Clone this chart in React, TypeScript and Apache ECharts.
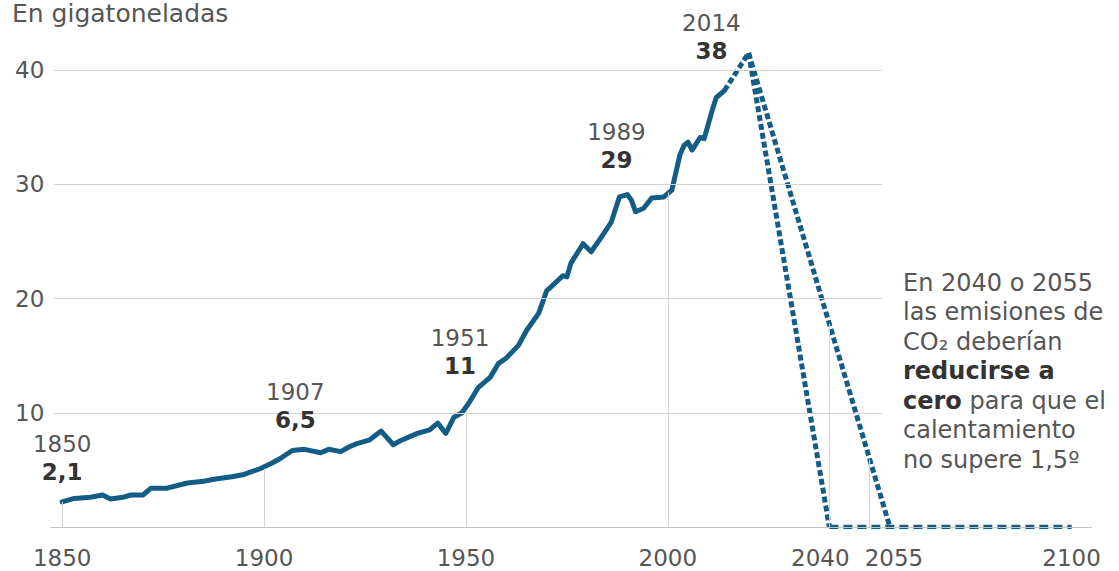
import React, { useEffect, useRef } from 'react';
import * as echarts from 'echarts';

// ---- data ----
const emissionYears = [
  1850, 1853, 1857, 1860, 1862, 1865, 1867, 1870, 1872, 1876, 1881, 1885, 1888, 1892, 1895, 1899,
  1902, 1904, 1907, 1910, 1914, 1916, 1919, 1921, 1923, 1926, 1929, 1932, 1934, 1938, 1941, 1943,
  1945, 1947, 1949, 1951, 1953, 1956, 1958, 1960, 1963, 1965, 1968, 1970, 1971, 1974, 1975, 1976,
  1979, 1981, 1983, 1986, 1988, 1990, 1991, 1992, 1994, 1996, 1999, 2001, 2003, 2004, 2005, 2006,
  2008, 2009, 2011, 2012, 2014,
];
const emissionValues = [
  2.2, 2.5, 2.6, 2.8, 2.45, 2.6, 2.8, 2.8, 3.4, 3.4, 3.85, 4.0, 4.2, 4.4, 4.6, 5.1,
  5.6, 6.0, 6.7, 6.8, 6.5, 6.8, 6.6, 7.0, 7.3, 7.6, 8.4, 7.2, 7.6, 8.2, 8.5, 9.1,
  8.2, 9.6, 10.0, 11.0, 12.2, 13.1, 14.3, 14.8, 15.9, 17.2, 18.7, 20.7, 21.0, 22.0, 21.9, 23.1,
  24.8, 24.1, 25.1, 26.7, 28.9, 29.1, 28.6, 27.6, 27.9, 28.8, 28.9, 29.5, 32.6, 33.4, 33.7, 33.0,
  34.1, 34.0, 36.5, 37.6, 38.2,
];

const bridgeYears = [2014, 2020];
const bridgeValues = [38.2, 41.5];
const path2040Years = [2020, 2040];
const path2040Values = [41.5, 0];
const path2055Years = [2020, 2055];
const path2055Values = [41.5, 0];
const zeroYears = [2040, 2100];
const zeroValues = [0, 0];

const gridValues = [10, 20, 30, 40];
const dropYears = [1850, 1900, 1950, 2000, 2040, 2050];
const dropValues = [2.2, 5.1, 10.2, 29.3, 17.8, 5.9];

const xTickLabels = [1850, 1900, 1950, 2000, 2040, 2055, 2100];
const yTickLabels = [10, 20, 30, 40];

const annYears = [1850, 1907, 1951, 1989, 2014];
const annAnchors = [2.1, 6.5, 11, 29, 38];
const annLabels = ['2,1', '6,5', '11', '29', '38'];
const annOffsets = [[0, -45], [3, -47], [-10, -49], [-7, -50], [-13, -56]];

const noteLines = [
  'En 2040 o 2055',
  'las emisiones de',
  'CO₂ deberían',
  '{b|reducirse a}',
  '{b|cero} para que el',
  'calentamiento',
  'no supere 1,5º',
];

const FONT = '"DejaVu Sans", sans-serif';
const GRAY = '#555555';
const DARK = '#333333';
const LINE = '#135c86';
const GRIDC = '#d2d2d2';

const zip = (xs: number[], ys: number[]) => xs.map((x, i) => [x, ys[i]]);

export default function App() {
  const ref = useRef<HTMLDivElement>(null);
  useEffect(() => {
    const chart = echarts.init(ref.current!, null, { renderer: 'svg' });
    const markLines: any[] = [];
    gridValues.forEach((v) => {
      markLines.push([{ coord: [1848, v] }, { coord: [2053, v] }]);
    });
    markLines.push([
      { coord: [1847, 0], lineStyle: { color: '#c4c4c4', width: 1.2 } },
      { coord: [2105, 0] },
    ]);
    dropYears.forEach((y, i) => {
      markLines.push([{ coord: [y, 0] }, { coord: [y, dropValues[i]] }]);
    });

    const option: any = {
      animation: false,
      grid: { left: 42, right: 7, top: 13, bottom: 44 },
      xAxis: {
        type: 'value',
        min: 1845,
        max: 2110,
        interval: 5,
        axisLine: { show: false },
        axisTick: { show: false },
        splitLine: { show: false },
        axisLabel: {
          margin: 19,
          fontSize: 23,
          color: GRAY,
          fontFamily: FONT,
          showMinLabel: true,
          showMaxLabel: true,
          formatter: (v: number) => {
            if (!xTickLabels.includes(v)) return '';
            if (v === 2040) return '{l|2040}';
            if (v === 2055) return '{r|2055}';
            return String(v);
          },
          rich: {
            l: { fontSize: 23, color: GRAY, fontFamily: FONT, padding: [0, 18, 0, 0] },
            r: { fontSize: 23, color: GRAY, fontFamily: FONT, padding: [0, 0, 0, 8] },
          },
        },
      },
      yAxis: {
        type: 'value',
        min: 0,
        max: 45,
        interval: 10,
        axisLine: { show: false },
        axisTick: { show: false },
        splitLine: { show: false },
        axisLabel: {
          align: 'left',
          margin: 27,
          fontSize: 23,
          color: GRAY,
          fontFamily: FONT,
          formatter: (v: number) => (yTickLabels.includes(v) ? String(v) : ''),
        },
      },
      series: [
        {
          name: 'grid',
          type: 'line',
          z: 1,
          data: [],
          silent: true,
          markLine: {
            silent: true,
            symbol: ['none', 'none'],
            label: { show: false },
            lineStyle: { color: GRIDC, width: 1, type: 'solid' },
            data: markLines,
          },
        },
        {
          name: 'Emisiones',
          type: 'line',
          z: 4,
          data: zip(emissionYears, emissionValues),
          showSymbol: false,
          symbol: 'none',
          lineStyle: { color: LINE, width: 5, join: 'round', cap: 'round' },
          markPoint: {
            symbol: 'circle',
            symbolSize: 1,
            itemStyle: { color: 'rgba(0,0,0,0)' },
            data: annYears.map((y, i) => ({
              coord: [y, annAnchors[i]],
              label: {
                show: true,
                position: 'inside',
                offset: annOffsets[i],
                formatter: `{y|${y}}\n{v|${annLabels[i]}}`,
              },
            })),
            label: {
              show: true,
              rich: {
                y: { fontSize: 23, color: GRAY, fontFamily: FONT, lineHeight: 28, align: 'center' },
                v: { fontSize: 23, color: DARK, fontFamily: FONT, fontWeight: 'bold', lineHeight: 28, align: 'center' },
              },
            },
          },
        },
        {
          name: 'bridge',
          type: 'line',
          z: 3,
          data: zip(bridgeYears, bridgeValues),
          symbol: 'none',
          lineStyle: { color: LINE, width: 5, type: [6, 3] },
        },
        {
          name: '2040',
          type: 'line',
          z: 3,
          data: zip(path2040Years, path2040Values),
          symbol: 'none',
          lineStyle: { color: LINE, width: 5, type: [6, 3] },
        },
        {
          name: '2055',
          type: 'line',
          z: 3,
          data: zip(path2055Years, path2055Values),
          symbol: 'none',
          lineStyle: { color: LINE, width: 5, type: [6, 3] },
        },
        {
          name: 'cero',
          type: 'line',
          z: 3,
          data: zip(zeroYears, zeroValues),
          symbol: 'none',
          lineStyle: { color: LINE, width: 4.5, type: [9, 5] },
        },
      ],
      graphic: [
        {
          type: 'text',
          left: 12,
          top: 1,
          style: { text: 'En gigatoneladas', fontSize: 25, fontFamily: FONT, fill: GRAY },
        },
        {
          type: 'text',
          left: 903,
          top: 268,
          style: {
            text: noteLines.join('\n'),
            fontSize: 24,
            fontFamily: FONT,
            fill: GRAY,
            lineHeight: 29.5,
            rich: {
              b: { fontSize: 24, fontFamily: FONT, fontWeight: 'bold', fill: DARK, lineHeight: 29.5 },
            },
          },
        },
      ],
    };
    chart.setOption(option);
    return () => chart.dispose();
  }, []);
  return (
    <div
      ref={ref}
      style={{ position: 'fixed', left: 0, top: 0, width: 1119, height: 571, background: '#fff' }}
    />
  );
}
